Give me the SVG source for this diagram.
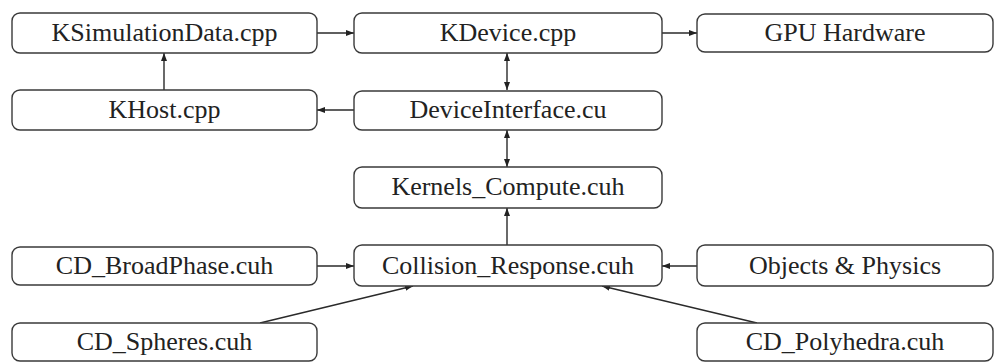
<svg xmlns="http://www.w3.org/2000/svg" width="995" height="363" viewBox="0 0 995 363" font-family="Liberation Serif">
<style>
.box{fill:#fff;stroke:#3a3a3a;stroke-width:1.4}
.con{stroke:#2a2a2a;stroke-width:1.4;fill:none}
</style>
<defs>
<marker id="ah" markerUnits="userSpaceOnUse" markerWidth="9" markerHeight="7" refX="8" refY="3.5" orient="auto-start-reverse">
<path d="M0,0.5 L8,3.5 L0,6.5 z" fill="#222"/>
</marker>
</defs>
<rect width="995" height="363" fill="#fff"/>
<g id="connectors">
<line class="con" x1="317" y1="33" x2="354" y2="33" marker-end="url(#ah)"/>
<line class="con" x1="662" y1="33" x2="697" y2="33" marker-end="url(#ah)"/>
<line class="con" x1="164" y1="90" x2="164" y2="53" marker-end="url(#ah)"/>
<line class="con" x1="354" y1="110" x2="317" y2="110" marker-end="url(#ah)"/>
<line class="con" x1="507" y1="53" x2="507" y2="90" marker-start="url(#ah)" marker-end="url(#ah)"/>
<line class="con" x1="507" y1="130" x2="507" y2="167" marker-start="url(#ah)" marker-end="url(#ah)"/>
<line class="con" x1="507" y1="247" x2="507" y2="208" marker-end="url(#ah)"/>
<line class="con" x1="317" y1="266" x2="354" y2="266" marker-end="url(#ah)"/>
<line class="con" x1="697" y1="266" x2="662" y2="266" marker-end="url(#ah)"/>
<line class="con" x1="260" y1="323" x2="413" y2="286" marker-end="url(#ah)"/>
<line class="con" x1="757" y1="323" x2="602" y2="286" marker-end="url(#ah)"/>
</g>
<g id="nodes" font-size="26" fill="#222" text-anchor="middle">
<g id="n_ksim"><rect class="box" x="12" y="13" width="305" height="40" rx="8"/><text x="164.5" y="41">KSimulationData.cpp</text></g>
<g id="n_kdevice"><rect class="box" x="354" y="13" width="308" height="40" rx="8"/><text x="508" y="41">KDevice.cpp</text></g>
<g id="n_gpu"><rect class="box" x="697" y="14" width="296" height="38" rx="8"/><text x="845" y="41">GPU Hardware</text></g>
<g id="n_khost"><rect class="box" x="12" y="90" width="305" height="40" rx="8"/><text x="164.5" y="118">KHost.cpp</text></g>
<g id="n_devif"><rect class="box" x="354" y="91" width="308" height="39" rx="8"/><text x="508" y="118">DeviceInterface.cu</text></g>
<g id="n_kernels"><rect class="box" x="354" y="167" width="308" height="41" rx="8"/><text x="508" y="195">Kernels_Compute.cuh</text></g>
<g id="n_broad"><rect class="box" x="12" y="247" width="305" height="38" rx="8"/><text x="164.5" y="274">CD_BroadPhase.cuh</text></g>
<g id="n_coll"><rect class="box" x="354" y="245" width="308" height="41" rx="8"/><text x="508" y="274">Collision_Response.cuh</text></g>
<g id="n_obj"><rect class="box" x="697" y="245" width="296" height="41" rx="8"/><text x="845" y="274">Objects &amp; Physics</text></g>
<g id="n_spheres"><rect class="box" x="12" y="323" width="305" height="38" rx="8"/><text x="164.5" y="350">CD_Spheres.cuh</text></g>
<g id="n_poly"><rect class="box" x="697" y="323" width="296" height="38" rx="8"/><text x="845" y="350">CD_Polyhedra.cuh</text></g>
</g>
</svg>
